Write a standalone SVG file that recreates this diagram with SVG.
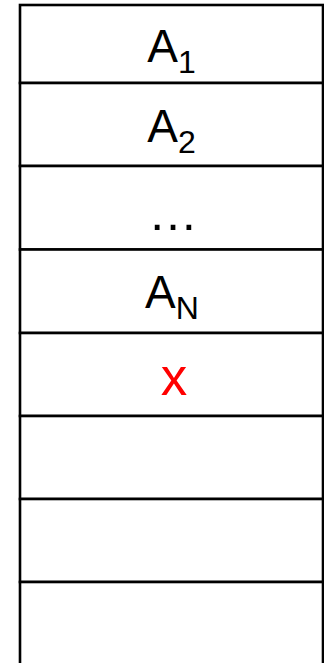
<svg xmlns="http://www.w3.org/2000/svg" width="324" height="663" viewBox="0 0 324 663">
<style>
.cell{fill:#fff;stroke:#000;stroke-width:2.6}
.t{font-family:"Liberation Sans",Arial,sans-serif;font-size:46px;fill:#000;text-anchor:middle}
.sub{font-size:32px}
.dots{font-size:50px}
.red{fill:#ff0000;font-size:53px}
</style>
<rect width="324" height="663" fill="#fff"/>
<g id="cell1"><rect class="cell" x="20" y="5" width="303" height="78"/><text class="t" x="171.5" y="62">A<tspan class="sub" dy="11">1</tspan></text></g>
<g id="cell2"><rect class="cell" x="20" y="83" width="303" height="83"/><text class="t" x="171.5" y="142">A<tspan class="sub" dy="11">2</tspan></text></g>
<g id="cell3"><rect class="cell" x="20" y="166" width="303" height="83.5"/><text class="t dots" x="173" y="230">…</text></g>
<g id="cell4"><rect class="cell" x="20" y="249.5" width="303" height="83.5"/><text class="t" x="172" y="308">A<tspan class="sub" dy="11">N</tspan></text></g>
<g id="cell5"><rect class="cell" x="20" y="333" width="303" height="83"/><text class="t red" x="174" y="395">x</text></g>
<g id="cell6"><rect class="cell" x="20" y="416" width="303" height="83"/></g>
<g id="cell7"><rect class="cell" x="20" y="499" width="303" height="83"/></g>
<g id="cell8"><rect class="cell" x="20" y="582" width="303" height="90"/></g>
<g id="connectors"></g>
</svg>
